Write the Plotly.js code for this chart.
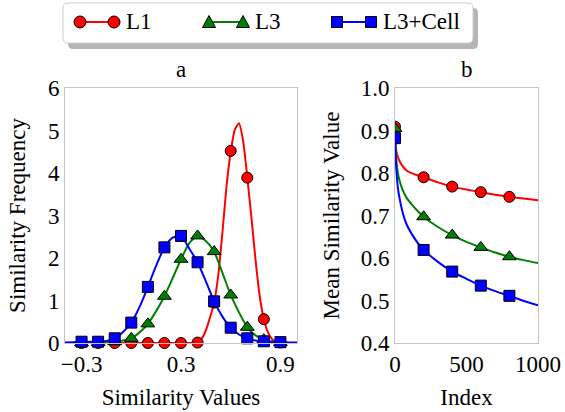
<!DOCTYPE html>
<html>
<head>
<meta charset="utf-8">
<script src="https://cdn.plot.ly/plotly-3.0.1.min.js"></script>
<style>html,body{margin:0;padding:0;background:#fff;}#chart{width:565px;height:412px;}</style>
</head>
<body>
<div id="chart"></div>
<script>
// ---------- Data: panel a (similarity distributions) ----------
const seriesNames = ["L1", "L3", "L3+Cell"];
const simMarkerX = [-0.3, -0.2, -0.1, 0.0, 0.1, 0.2, 0.3, 0.4, 0.5, 0.6, 0.7, 0.8, 0.9];
const l1MarkerY   = [0, 0, 0, 0, 0, 0, 0, 0.01, 0.95, 4.52, 3.89, 0.56, 0.01];
const l3MarkerY   = [0, 0.01, 0.03, 0.11, 0.45, 1.10, 1.97, 2.52, 2.15, 1.13, 0.37, 0.08, 0.01];
const cellMarkerY = [0.03, 0.03, 0.11, 0.48, 1.32, 2.25, 2.52, 1.90, 0.98, 0.36, 0.11, 0.04, 0.02];

const l1CurveX = [-0.4, -0.3, -0.2, -0.1, 0, 0.1, 0.2, 0.3, 0.35, 0.375, 0.4, 0.425, 0.45, 0.475, 0.5, 0.525, 0.55, 0.575, 0.6, 0.625, 0.65, 0.675, 0.7, 0.725, 0.75, 0.775, 0.8, 0.825, 0.85, 0.875, 0.9, 0.95, 1.0];
const l1CurveY = [0, 0, 0, 0, 0, 0, 0, 0, 0, 0.005, 0.02, 0.1, 0.3, 0.6, 0.95, 1.6, 2.6, 3.7, 4.5, 5.02, 5.17, 4.75, 3.9, 2.95, 1.95, 1.1, 0.56, 0.25, 0.09, 0.03, 0.01, 0, 0];

const distCurveX = [-0.4, -0.35, -0.3, -0.25, -0.2, -0.15, -0.1, -0.05, 0.0, 0.05, 0.1, 0.15, 0.2, 0.25, 0.3, 0.35, 0.4, 0.45, 0.5, 0.55, 0.6, 0.65, 0.7, 0.75, 0.8, 0.85, 0.9, 0.95, 1.0];
const l3CurveY   = [0, 0, 0, 0, 0.01, 0.02, 0.03, 0.06, 0.11, 0.25, 0.45, 0.75, 1.10, 1.53, 1.97, 2.35, 2.52, 2.40, 2.15, 1.65, 1.13, 0.72, 0.37, 0.18, 0.08, 0.03, 0.01, 0, 0];
const cellCurveY = [0.01, 0.02, 0.03, 0.03, 0.03, 0.05, 0.11, 0.26, 0.48, 0.85, 1.32, 1.82, 2.25, 2.48, 2.52, 2.22, 1.90, 1.45, 0.98, 0.62, 0.36, 0.20, 0.11, 0.06, 0.04, 0.03, 0.02, 0.01, 0.01];

// ---------- Data: panel b (mean similarity vs index) ----------
const idxMarkerX = [0, 200, 400, 600, 800];
const l1MeanMarker   = [0.909, 0.790, 0.768, 0.755, 0.744];
const l3MeanMarker   = [0.905, 0.697, 0.654, 0.625, 0.603];
const cellMeanMarker = [0.882, 0.619, 0.568, 0.535, 0.511];

const idxCurveX = [0, 5, 10, 20, 35, 50, 80, 120, 160, 200, 300, 400, 500, 600, 700, 800, 900, 1000];
const l1MeanCurve   = [0.909, 0.862, 0.850, 0.838, 0.826, 0.818, 0.806, 0.799, 0.794, 0.790, 0.778, 0.768, 0.761, 0.755, 0.749, 0.744, 0.740, 0.736];
const l3MeanCurve   = [0.905, 0.850, 0.828, 0.800, 0.778, 0.763, 0.742, 0.725, 0.710, 0.697, 0.673, 0.654, 0.638, 0.625, 0.613, 0.603, 0.595, 0.588];
const cellMeanCurve = [0.882, 0.835, 0.805, 0.765, 0.735, 0.712, 0.680, 0.655, 0.635, 0.619, 0.591, 0.568, 0.551, 0.535, 0.522, 0.511, 0.499, 0.489];

const simTicks = [-0.3, 0.3, 0.9];
const idxTicks = [0, 500, 1000];

// ---------- Styles ----------
const W = 565, H = 412;
const FONT = "Liberation Serif, Times New Roman, serif";
const FS = 23;
const colors = ["#ff0000", "#008000", "#0000ff"];
const symbols = ["circle", "triangle-up", "square"];
const msize = [11, 12, 11];

function curve(x, y, i, xa, ya) {
  return {x: x, y: y, xaxis: xa, yaxis: ya, mode: "lines", type: "scatter",
    line: {color: colors[i], width: 2, shape: "spline", smoothing: 0.6},
    showlegend: false, hoverinfo: "skip"};
}
function marks(x, y, i, xa, ya, clip) {
  return {x: x, y: y, xaxis: xa, yaxis: ya, mode: "markers", type: "scatter",
    cliponaxis: clip,
    marker: {color: colors[i], symbol: symbols[i], size: msize[i], line: {color: "#000", width: 1}},
    name: seriesNames[i], showlegend: false};
}

const traces = [
  curve(l1CurveX, l1CurveY, 0, "x", "y"),
  marks(simMarkerX, l1MarkerY, 0, "x", "y", false),
  curve(distCurveX, l3CurveY, 1, "x", "y"),
  marks(simMarkerX, l3MarkerY, 1, "x", "y", false),
  curve(distCurveX, cellCurveY, 2, "x", "y"),
  marks(simMarkerX, cellMarkerY, 2, "x", "y", false),
  curve(idxCurveX, l1MeanCurve, 0, "x2", "y2"),
  marks(idxMarkerX, l1MeanMarker, 0, "x2", "y2", true),
  curve(idxCurveX, l3MeanCurve, 1, "x2", "y2"),
  marks(idxMarkerX, l3MeanMarker, 1, "x2", "y2", true),
  curve(idxCurveX, cellMeanCurve, 2, "x2", "y2"),
  marks(idxMarkerX, cellMeanMarker, 2, "x2", "y2", true)
];

const px = v => v / W;
const py = v => 1 - v / H;
const yDom = [py(343), py(88)];

const axisBase = {showgrid: false, zeroline: false, showline: true, mirror: true,
  linecolor: "#c4c4c4", linewidth: 1, ticks: "", fixedrange: true,
  tickfont: {family: FONT, size: FS, color: "#000"}};

// ---------- Custom legend (two markers per entry) ----------
const shapes = [];
const annotations = [];
function roundRect(x0, y0, x1, y1, r) {
  const X = v => px(v).toFixed(5), Y = v => py(v).toFixed(5);
  return `M${X(x0 + r)},${Y(y0)} L${X(x1 - r)},${Y(y0)} Q${X(x1)},${Y(y0)} ${X(x1)},${Y(y0 + r)} ` +
         `L${X(x1)},${Y(y1 - r)} Q${X(x1)},${Y(y1)} ${X(x1 - r)},${Y(y1)} L${X(x0 + r)},${Y(y1)} ` +
         `Q${X(x0)},${Y(y1)} ${X(x0)},${Y(y1 - r)} L${X(x0)},${Y(y0 + r)} Q${X(x0)},${Y(y0)} ${X(x0 + r)},${Y(y0)} Z`;
}
shapes.push({type: "path", xref: "paper", yref: "paper", path: roundRect(68, 8, 478, 49, 5),
  fillcolor: "rgba(120,120,120,0.55)", line: {width: 0}});
shapes.push({type: "path", xref: "paper", yref: "paper", path: roundRect(63, 3, 473, 43, 5),
  fillcolor: "#ffffff", line: {color: "#cccccc", width: 1}});

const legItems = [{a: 80, b: 114, t: 124}, {a: 209, b: 243, t: 253}, {a: 337, b: 371, t: 381}];
const LY = 22;
legItems.forEach((it, i) => {
  shapes.push({type: "line", xref: "paper", yref: "paper", x0: px(it.a), x1: px(it.b), y0: py(LY), y1: py(LY),
    line: {color: colors[i], width: 2}});
  [it.a, it.b].forEach(cx => {
    const r = 6;
    if (i === 0) {
      shapes.push({type: "circle", xref: "paper", yref: "paper", x0: px(cx - r), x1: px(cx + r), y0: py(LY + r), y1: py(LY - r),
        fillcolor: colors[i], line: {color: "#000", width: 1}});
    } else if (i === 1) {
      const p = `M${px(cx - 6.5)},${py(LY + 5.5)} L${px(cx + 6.5)},${py(LY + 5.5)} L${px(cx)},${py(LY - 6.5)} Z`;
      shapes.push({type: "path", xref: "paper", yref: "paper", path: p, fillcolor: colors[i], line: {color: "#000", width: 1}});
    } else {
      shapes.push({type: "rect", xref: "paper", yref: "paper", x0: px(cx - 5.5), x1: px(cx + 5.5), y0: py(LY + 5.5), y1: py(LY - 5.5),
        fillcolor: colors[i], line: {color: "#000", width: 1}});
    }
  });
  annotations.push({xref: "paper", yref: "paper", x: px(it.t), y: py(LY), xanchor: "left", yanchor: "middle",
    text: seriesNames[i], showarrow: false, font: {family: FONT, size: FS, color: "#000"}});
});

// panel titles
annotations.push({xref: "paper", yref: "paper", x: px(181), y: py(69), xanchor: "center", yanchor: "middle",
  text: "a", showarrow: false, font: {family: FONT, size: FS, color: "#000"}});
annotations.push({xref: "paper", yref: "paper", x: px(466.5), y: py(69), xanchor: "center", yanchor: "middle",
  text: "b", showarrow: false, font: {family: FONT, size: FS, color: "#000"}});

const layout = {
  width: W, height: H,
  margin: {l: 0, r: 0, t: 0, b: 0},
  paper_bgcolor: "#fff", plot_bgcolor: "#fff",
  font: {family: FONT, size: FS, color: "#000"},
  showlegend: false,
  xaxis: Object.assign({}, axisBase, {domain: [px(65), px(297)], anchor: "y", range: [-0.4, 1.0],
    tickmode: "array", tickvals: simTicks, tickformat: ".1f",
    title: {text: "Similarity Values", font: {family: FONT, size: FS}, standoff: 13}}),
  yaxis: Object.assign({}, axisBase, {domain: yDom, anchor: "x", range: [0, 6], dtick: 1, tick0: 0,
    title: {text: "Similarity Frequency", font: {family: FONT, size: FS}, standoff: 15}}),
  xaxis2: Object.assign({}, axisBase, {domain: [px(395), px(538)], anchor: "y2", range: [0, 1000],
    tickmode: "array", tickvals: idxTicks,
    title: {text: "Index", font: {family: FONT, size: FS}, standoff: 13}}),
  yaxis2: Object.assign({}, axisBase, {domain: yDom, anchor: "x2", range: [0.4, 1.0], dtick: 0.1, tick0: 0.4,
    tickformat: ".1f",
    title: {text: "Mean Similarity Value", font: {family: FONT, size: FS}, standoff: 14}}),
  shapes: shapes,
  annotations: annotations
};

Plotly.newPlot("chart", traces, layout, {displayModeBar: false, staticPlot: true});
</script>
</body>
</html>
